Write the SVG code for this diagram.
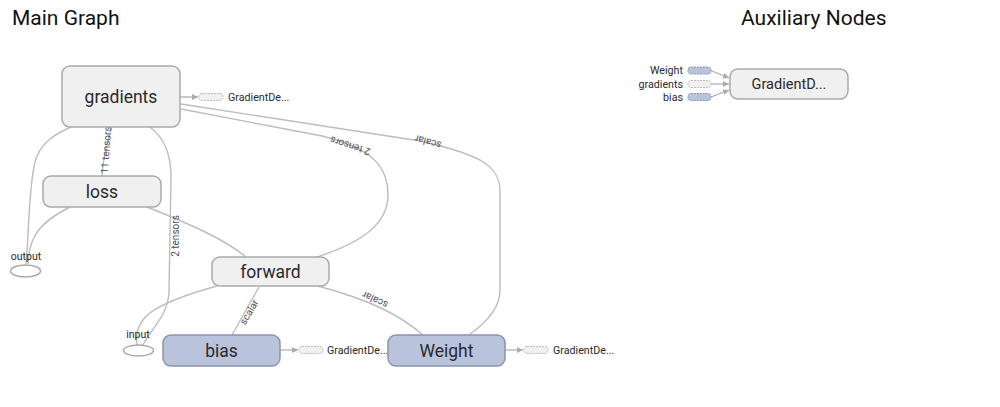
<svg xmlns="http://www.w3.org/2000/svg" width="1000" height="407" viewBox="0 0 1000 407">
<defs>
<marker id="arr" viewBox="0 0 10 10" refX="10" refY="5" markerWidth="6" markerHeight="6" orient="auto" markerUnits="userSpaceOnUse">
<path d="M0,0 L10,5 L0,10 z" fill="#aaa"/>
</marker>
</defs>
<style>
text{font-family:Roboto,"Liberation Sans",sans-serif;fill:#2a2a2a}
.title{font-size:21px;fill:#111}
.op{fill:#f0f0f0;stroke:#a9a9a9;stroke-width:1.5}
.var{fill:#b9c3dc;stroke:#8b94ab;stroke-width:1.5}
.nl{font-size:17.5px;text-anchor:middle;dominant-baseline:central}
.ph{fill:#fff;stroke:#aaa;stroke-width:1.5}
.pl{font-size:10.5px;text-anchor:middle}
.edge{fill:none;stroke:#bdbdbd;stroke-width:1.4}
.el{font-size:10px;fill:#4a4f5a;text-anchor:middle;dominant-baseline:central}
.stub{fill:#f0f0f0;stroke:#bbb;stroke-width:1;stroke-dasharray:2,1}
.vstub{fill:#b9c3dc;stroke:#8b94ab;stroke-width:1;stroke-dasharray:2,1}
.sl{font-size:10.7px;dominant-baseline:central}
.sa{fill:none;stroke:#aaa;stroke-width:1.2}
</style>
<rect width="1000" height="407" fill="#fff"/>
<text class="title" x="12" y="25">Main Graph</text>
<text class="title" x="741" y="25">Auxiliary Nodes</text>

<g id="edges">
<path class="edge" d="M102,176 C103,155 108,140 112,127"/>
<path class="edge" d="M26,264 C29,230 29,185 35,162 C40,143 55,134 71,127"/>
<path class="edge" d="M28,264 C29,240 36,224 70,207"/>
<path class="edge" d="M143,345 C150,330 168,316 169,292 L171,177 C171,152 162,136 150,127"/>
<path class="edge" d="M137,345 C133,318 152,304 217,286"/>
<path class="edge" d="M147,207 C190,224 226,240 246,257"/>
<path class="edge" d="M317,257 C360,243 388,225 388,195 C388,162 366,147 322,136 L181,109"/>
<path class="edge" d="M470,334 C490,320 500,306 500,290 L500,192 C500,166 482,155 420,141 L181,104"/>
<path class="edge" d="M232,335 L259,287"/>
<path class="edge" d="M423,335 C400,315 370,300 318,286"/>
<text class="el" transform="translate(106,150) rotate(-86)">11 tensors</text>
<text class="el" transform="translate(175,236) rotate(-90)">2 tensors</text>
<text class="el" transform="translate(350,146) rotate(198)">2 tensors</text>
<text class="el" transform="translate(428,142) rotate(196)">scalar</text>
<text class="el" transform="translate(249,312) rotate(-60)">scalar</text>
<text class="el" transform="translate(375,300) rotate(205)">scalar</text>
<path class="sa" d="M180,97 L198,97" marker-end="url(#arr)"/>
<path class="sa" d="M280,350 L298,350" marker-end="url(#arr)"/>
<path class="sa" d="M505,350 L523,350" marker-end="url(#arr)"/>
<path class="sa" d="M711,70.5 L729,78" marker-end="url(#arr)"/>
<path class="sa" d="M711,84 L729,84" marker-end="url(#arr)"/>
<path class="sa" d="M711,97 L729,90" marker-end="url(#arr)"/>
</g>

<g id="gradients">
<rect class="op" x="62" y="66" width="118" height="61" rx="8"/>
<text class="nl" x="121" y="97">gradients</text>
</g>
<g id="gradients-stub">
<rect class="stub" x="199" y="93.5" width="24" height="7" rx="3"/>
<text class="sl" x="228" y="97">GradientDe...</text>
</g>
<g id="loss">
<rect class="op" x="43" y="176" width="118" height="31" rx="8"/>
<text class="nl" x="102" y="191.5">loss</text>
</g>
<g id="forward">
<rect class="op" x="212" y="257" width="117" height="29" rx="8"/>
<text class="nl" x="270.5" y="271.5">forward</text>
</g>
<g id="bias">
<rect class="var" x="163" y="335" width="117" height="31" rx="8"/>
<text class="nl" x="221.5" y="350.5">bias</text>
</g>
<g id="bias-stub">
<rect class="stub" x="299" y="346.5" width="24" height="7" rx="3"/>
<text class="sl" x="327" y="350">GradientDe...</text>
</g>
<g id="Weight">
<rect class="var" x="388" y="335" width="117" height="31" rx="8"/>
<text class="nl" x="446.5" y="350.5">Weight</text>
</g>
<g id="Weight-stub">
<rect class="stub" x="524" y="346.5" width="24" height="7" rx="3"/>
<text class="sl" x="553" y="350">GradientDe...</text>
</g>
<g id="output">
<ellipse class="ph" cx="25.5" cy="271" rx="15" ry="6"/>
<text class="pl" x="26" y="260">output</text>
</g>
<g id="input">
<ellipse class="ph" cx="138.5" cy="350.5" rx="15" ry="5.5"/>
<text class="pl" x="138" y="338">input</text>
</g>

<g id="GradientDescent">
<rect class="op" x="730" y="69" width="118" height="30" rx="8"/>
<text class="nl" x="789" y="84.5" style="font-size:14.5px">GradientD...</text>
</g>
<g id="aux-inputs">
<rect class="vstub" x="688" y="67" width="23" height="7" rx="3"/>
<text class="sl" x="683" y="70.5" text-anchor="end">Weight</text>
<rect class="stub" x="688" y="80.5" width="23" height="7" rx="3"/>
<text class="sl" x="683" y="84" text-anchor="end">gradients</text>
<rect class="vstub" x="688" y="93.5" width="23" height="7" rx="3"/>
<text class="sl" x="683" y="97" text-anchor="end">bias</text>
</g>
</svg>
